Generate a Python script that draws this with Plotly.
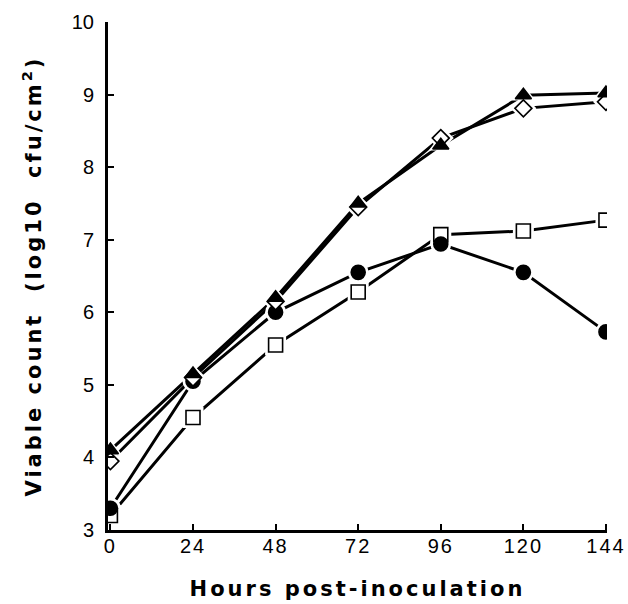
import plotly.graph_objects as go

hours = [0, 24, 48, 72, 96, 120, 144]
tri_filled = [4.1, 5.15, 6.2, 7.5, 8.3, 8.99, 9.02]
diamond_open = [3.95, 5.1, 6.15, 7.45, 8.4, 8.81, 8.9]
circle_filled = [3.3, 5.05, 6.0, 6.55, 6.94, 6.55, 5.73]
square_open = [3.2, 4.55, 5.55, 6.28, 7.07, 7.12, 7.27]

x_ticks = [0, 24, 48, 72, 96, 120, 144]
y_ticks = [3, 4, 5, 6, 7, 8, 9, 10]

series = [
    (square_open, "square", "white", 14),
    (circle_filled, "circle", "black", 14),
    (diamond_open, "diamond", "white", 13),
    (tri_filled, "triangle-up", "black", 14),
]

fig = go.Figure()
for ys, sym, fill, sz in series:
    fig.add_trace(go.Scatter(x=hours, y=ys, mode="lines",
                             line=dict(color="black", width=3),
                             showlegend=False, hoverinfo="skip"))
for ys, sym, fill, sz in series:
    fig.add_trace(go.Scatter(x=hours, y=ys, mode="markers",
                             marker=dict(symbol=sym, size=sz + 7, color="white",
                                         line=dict(width=0)),
                             showlegend=False, hoverinfo="skip"))
for ys, sym, fill, sz in series:
    fig.add_trace(go.Scatter(x=hours, y=ys, mode="markers",
                             marker=dict(symbol=sym, size=sz, color=fill,
                                         line=dict(color="black", width=1.6)),
                             showlegend=False))

sp = '<span style="letter-spacing:3px">'
tsp = '<span style="letter-spacing:2px">'
fig.update_layout(
    width=628, height=604,
    margin=dict(l=108, r=21, t=22, b=74),
    paper_bgcolor="white", plot_bgcolor="white",
    font=dict(family="Liberation Sans", color="black"),
    xaxis=dict(range=[-0.7, 144.3], tickvals=x_ticks,
               ticktext=[tsp + str(v) + "</span>" for v in x_ticks],
               automargin=False,
               showgrid=False, zeroline=False, showline=True, linecolor="black", linewidth=3,
               ticks="inside", ticklen=6, tickwidth=1.5, tickcolor="black",
               tickfont=dict(size=20, family="Liberation Sans"),
               ticklabelstandoff=-4,
               title=dict(text=sp + "Hours post-inoculation</span>",
                          font=dict(size=21, family="DejaVu Sans", weight="bold"),
                          standoff=26)),
    yaxis=dict(range=[3, 10], tickvals=y_ticks, ticktext=[str(v) for v in y_ticks],
               automargin=False,
               showgrid=False, zeroline=False, showline=True, linecolor="black", linewidth=3,
               ticks="inside", ticklen=6, tickwidth=1.5, tickcolor="black",
               tickfont=dict(size=20, family="Liberation Sans"),
               ticklabelstandoff=7,
               title=dict(text=sp + "Viable count  (log10  cfu/cm<sup>2</sup>)</span>",
                          font=dict(size=21, family="DejaVu Sans", weight="bold"),
                          standoff=25)),
)

fig.write_html("out.html", config={"displayModeBar": False},
               post_script="document.body.style.margin='0';document.body.style.overflow='hidden';")
